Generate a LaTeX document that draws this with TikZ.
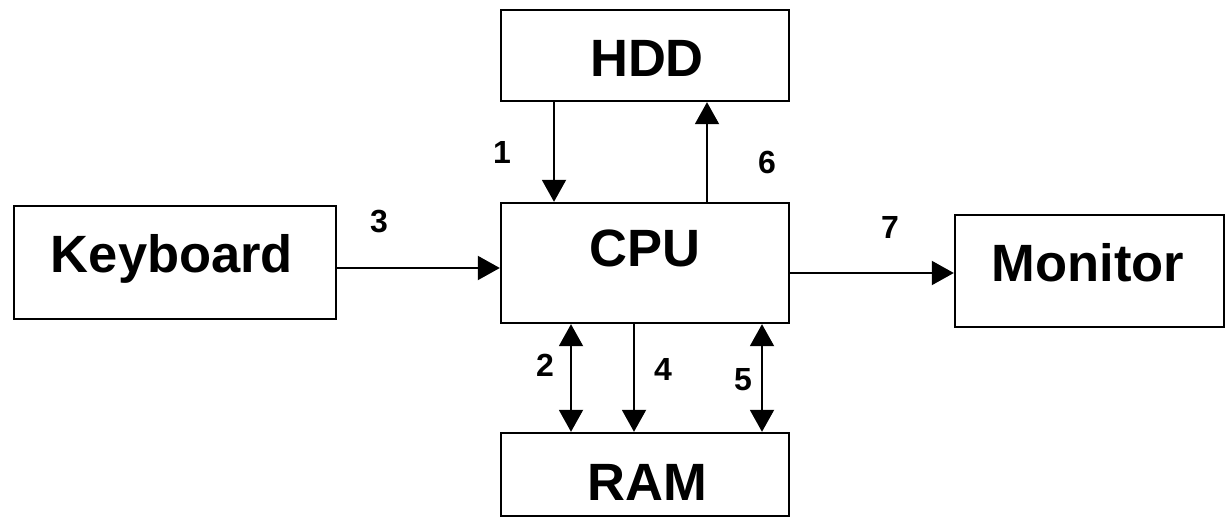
\documentclass[tikz,border=0pt]{standalone}
\usepackage{fontspec}
\setmainfont{Liberation Sans}
\usetikzlibrary{arrows.meta}
\begin{document}
\begin{tikzpicture}[x=1pt,y=-1pt,
  unit/.style={draw=black, line width=2.4pt, inner sep=0pt, fill=white},
  boxcaption/.style={font=\fontsize{52.5}{52.5}\selectfont\bfseries, anchor=base, inner sep=0pt},
  num/.style={font=\fontsize{32}{32}\selectfont\bfseries, anchor=center, inner sep=0pt},
  link/.style={line width=2pt, -{Triangle[width=24pt,length=22pt]}},
  duplex/.style={line width=2pt, {Triangle[width=24pt,length=22pt]}-{Triangle[width=24pt,length=22pt]}}
]
\useasboundingbox (0,0) rectangle (1226,518);

% boxes
\node[unit, minimum width=288pt, minimum height=91pt]  (hdd) at (645,55.5) {};
\node[unit, minimum width=288pt, minimum height=120pt] (cpu) at (645,263) {};
\node[unit, minimum width=288pt, minimum height=83pt]  (ram) at (645,474.5) {};
\node[unit, minimum width=322pt, minimum height=113pt] (kbd) at (175,262.5) {};
\node[unit, minimum width=269pt, minimum height=112pt] (mon) at (1089.5,271) {};

% box captions
\node[boxcaption] (hddT) at (647,77)  {HDD};
\node[boxcaption] (cpuT) at (645,267) {CPU};
\node[boxcaption] (ramT) at (647,500) {RAM};
\node[boxcaption] (kbdT) at (172,273) {Keyboard};
\node[boxcaption] (monT) at (1088,282) {Monitor};

% data paths
\draw[link]   ([xshift=-91pt]hdd.south) -- ([xshift=-91pt]cpu.north);
\draw[link]   ([xshift=62pt]cpu.north)  -- ([xshift=62pt]hdd.south);
\draw[duplex] ([xshift=-74pt]cpu.south) -- ([xshift=-74pt]ram.north);
\draw[link]   ([xshift=-11pt]cpu.south) -- ([xshift=-11pt]ram.north);
\draw[duplex] ([xshift=117pt]cpu.south) -- ([xshift=117pt]ram.north);
\draw[link]   ([yshift=-5.5pt]kbd.east) -- ([yshift=-5pt]cpu.west);
\draw[link]   ([yshift=-10pt]cpu.east)  -- ([yshift=-2pt]mon.west);

% path numbers
\node[num] (n1) at (502,152) {1};
\node[num] (n2) at (545,365) {2};
\node[num] (n3) at (379,222) {3};
\node[num] (n4) at (663,369) {4};
\node[num] (n5) at (743,380) {5};
\node[num] (n6) at (767,162) {6};
\node[num] (n7) at (890,227) {7};
\end{tikzpicture}
\end{document}
